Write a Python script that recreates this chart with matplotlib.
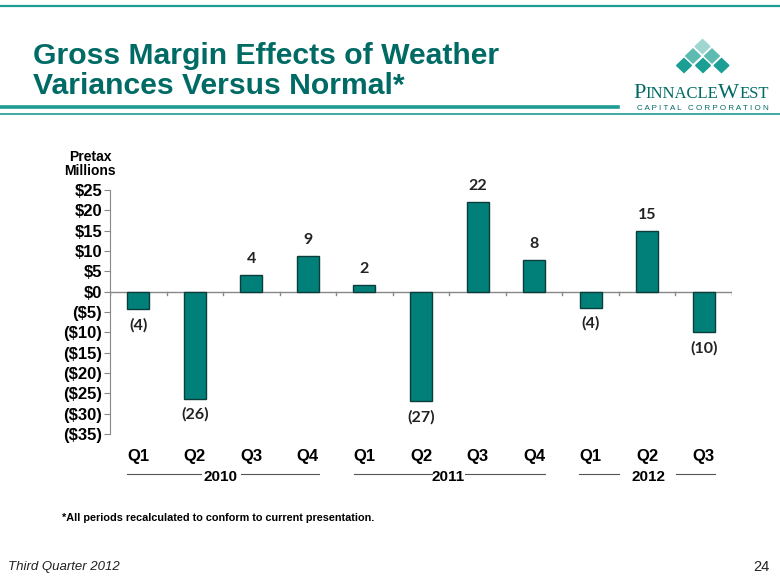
import matplotlib
matplotlib.use("Agg")
import matplotlib.pyplot as plt
from matplotlib.lines import Line2D
from matplotlib.patches import Polygon

# ---- data -----------------------------------------------------------
quarters = ["Q1", "Q2", "Q3", "Q4", "Q1", "Q2", "Q3", "Q4", "Q1", "Q2", "Q3"]
values = [-4.2, -26.3, 4.0, 8.7, 1.7, -26.9, 22.1, 7.7, -3.9, 15.0, -9.9]
value_labels = ["(4)", "(26)", "4", "9", "2", "(27)", "22", "8", "(4)", "15", "(10)"]
years = ["2010", "2011", "2012"]
yticks = [25, 20, 15, 10, 5, 0, -5, -10, -15, -20, -25, -30, -35]

TEAL_TXT = "#006b64"
TEAL_LINE = "#1d9c94"
BAR = "#008079"
W, H = 780, 585


def fx(px):
    return px / W


def fy(py):
    return 1 - py / H


def ylab(v):
    return f"${v}" if v >= 0 else f"(${-v})"


fig = plt.figure(figsize=(7.8, 5.85), dpi=100)
ax = fig.add_axes([fx(110), fy(434), fx(732) - fx(110), fy(190) - fy(434)])

x = list(range(len(values)))
ax.bar(x, values, width=0.39, color=BAR, edgecolor="#0d3d3b", linewidth=1.0, zorder=3)
ax.set_xlim(-0.5, len(values) - 0.5)
ax.set_ylim(-35, 25)

ax.set_yticks(yticks)
ax.set_yticklabels([ylab(v) for v in yticks], fontfamily="Liberation Sans",
                   fontweight="bold", fontsize=12)
ax.tick_params(axis="y", length=4, color="#888888", pad=1.5)
ax.set_xticks([])
for s in ("top", "right", "bottom"):
    ax.spines[s].set_visible(False)
ax.spines["left"].set_color("#888888")

# zero line with boundary ticks
ax.axhline(0, color="#888888", linewidth=1, zorder=2)
for b in range(len(values) + 1):
    ax.plot([b - 0.5, b - 0.5], [0, -0.9], color="#888888", linewidth=1, zorder=2)

for xi, v, lab in zip(x, values, value_labels):
    off = 2.2 if v >= 0 else -2.2
    ax.text(xi, v + off, lab, ha="center", va="bottom" if v >= 0 else "top",
            fontfamily="Lato", fontweight="bold", fontsize=11.5, color="#222222")

# quarter labels
for xi, q in zip(x, quarters):
    px = 110 + (xi + 0.5) * (622 / len(values))
    fig.text(fx(px), fy(457), q, ha="center", va="center", fontfamily="Liberation Sans",
             fontweight="bold", fontsize=12)

# year labels with rules
year_text_x = [220, 448, 649]
year_rules = [[(127, 201), (241, 319)], [(354, 432), (465, 545)], [(579, 619), (676, 715)]]
for yr, tx, rules in zip(years, year_text_x, year_rules):
    fig.text(fx(tx), fy(477), yr, ha="center", va="center", fontfamily="Liberation Sans",
             fontweight="bold", fontsize=11)
    for a, b in rules:
        fig.add_artist(Line2D([fx(a), fx(b)], [fy(474), fy(474)], color="#555555", linewidth=0.8))

fig.text(fx(90), fy(164), "Pretax\nMillions", ha="center", va="center", fontfamily="Liberation Sans",
         fontweight="bold", fontsize=10, linespacing=1.0)

# title and header rules
fig.text(fx(33), fy(56), "Gross Margin Effects of Weather", ha="left", va="center",
         fontfamily="Liberation Sans", fontweight="bold", fontsize=21.7, color=TEAL_TXT)
fig.text(fx(33), fy(86), "Variances Versus Normal*", ha="left", va="center",
         fontfamily="Liberation Sans", fontweight="bold", fontsize=21.7, color=TEAL_TXT)
fig.add_artist(Line2D([0, 1], [fy(6), fy(6)], color=TEAL_LINE, linewidth=1.6))
fig.add_artist(Line2D([0, fx(618)], [fy(107), fy(107)], color=TEAL_LINE, linewidth=2.6))
fig.add_artist(Line2D([0, 1], [fy(114), fy(114)], color=TEAL_LINE, linewidth=1.2))

# logo diamonds
centers = [(702.5, 46.5, "#9fd6cf"), (693, 56, "#5ebbb1"), (712, 56, "#5ebbb1"),
           (684, 65.5, "#1b9e94"), (703, 65.5, "#1b9e94"), (721.5, 65.5, "#1b9e94")]
for cx, cy, col in centers:
    dx, dy = 7.4, 7.0
    pts = [(fx(cx), fy(cy - dy)), (fx(cx + dx), fy(cy)),
           (fx(cx), fy(cy + dy)), (fx(cx - dx), fy(cy))]
    fig.add_artist(Polygon(pts, closed=True, color=col, transform=fig.transFigure))

# "PINNACLE WEST" in small caps, laid out piece by piece
serif = "Liberation Serif"
renderer = fig.canvas.get_renderer()
pieces = [("P", 16), ("INNACLE", 12), ("W", 16), ("EST", 12)]
cursor = 633
for txt, size in pieces:
    t = fig.text(fx(cursor), fy(98), txt, ha="left", va="baseline", fontfamily=serif,
                 fontsize=size, color=TEAL_TXT)
    cursor += t.get_window_extent(renderer).width
fig.text(fx(703), fy(108), " ".join("CAPITAL") + "   " + " ".join("CORPORATION"), ha="center",
         va="center", fontfamily="Liberation Sans", fontsize=5.8, color=TEAL_TXT)

# footnotes
fig.text(fx(62), fy(518), "*All periods recalculated to conform to current presentation.",
         ha="left", va="center", fontfamily="Liberation Sans", fontweight="bold", fontsize=7.8)
fig.text(fx(8), fy(567), "Third Quarter 2012", ha="left", va="center",
         fontfamily="Liberation Sans", fontstyle="italic", fontsize=9.5, color="#222222")
fig.text(fx(770), fy(567), "24", ha="right", va="center",
         fontfamily="Liberation Sans", fontsize=10.5, color="#222222")

fig.savefig("out.png", dpi=100)
